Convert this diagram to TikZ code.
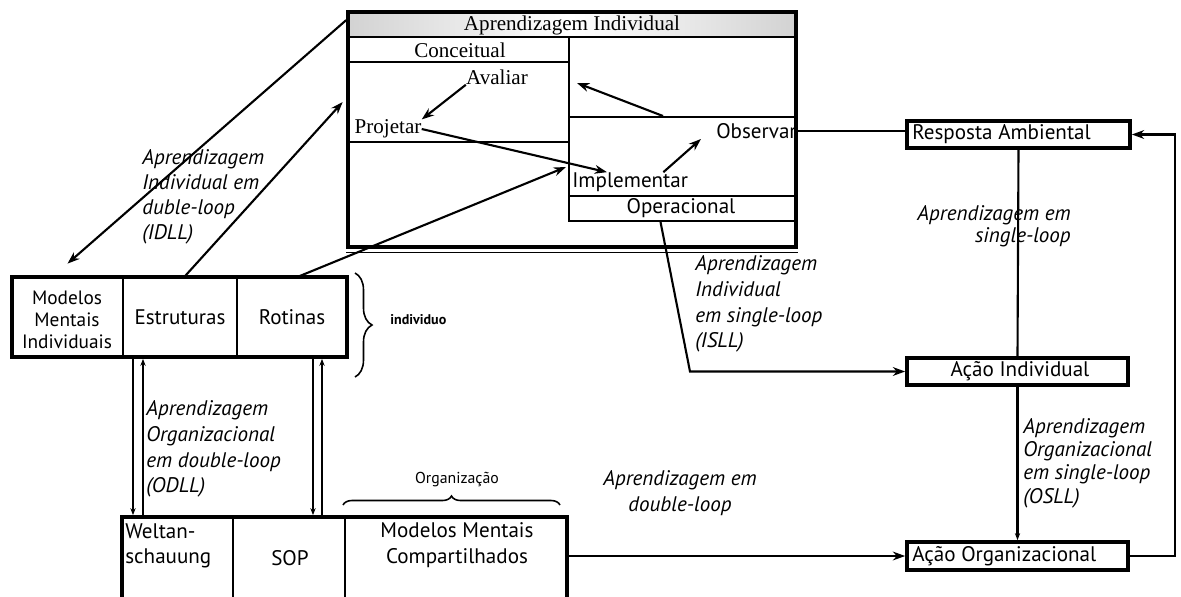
\documentclass[tikz,border=0pt]{standalone}
\usepackage{fontspec}
\setmainfont{Liberation Serif}
\newfontfamily\sansf{PT Sans}
\usetikzlibrary{arrows.meta,fit,decorations.pathreplacing}

\begin{document}
\begin{tikzpicture}[x=0.02cm,y=-0.02cm,
  frame/.style={draw,inner sep=0pt,line width=1pt},
  heavy/.style={frame,line width=2.1pt},
  txt/.style={inner sep=0pt,font=\sansf\fontsize{12}{14}\selectfont},
  serif/.style={inner sep=0pt,font=\fontsize{12}{14}\selectfont},
  lbl/.style={inner sep=0pt,align=left,font=\sansf\itshape\fontsize{12}{14.7}\selectfont},
  arr/.style={-{Stealth[length=7pt,width=5pt]},line width=1.2pt},
  small arr/.style={-{Stealth[length=4pt,width=3pt]},line width=1.2pt},
  conn/.style={line width=1.2pt}]

\clip (0,0) rectangle (1181,596);
\fill[white] (0,0) rectangle (1181,596);

% ---------- individual learning box ----------
\node[frame,fit={(348,12)(796,37)},left color=gray!35,right color=gray!35,middle color=white] (ttlbar) {};
\node[heavy,fit={(348,12)(796,247)}] (topbox) {};
\node[frame,fit={(348,37)(569,62)}] (concl) {};
\node[frame,line width=1.5pt,fit={(348,62)(569,142)}] (concarea) {};
\node[frame,line width=1.5pt,fit={(569,117)(796,196)}] (opbox) {};
\node[frame,fit={(569,196)(796,221)}] (opcell) {};
\draw[line width=0.6pt] ([yshift=-0.08cm]topbox.south west) -- ([yshift=-0.08cm]topbox.south east);

\node[serif] (ttl) at (572,25) {Aprendizagem Individual};
\node[serif] (tconc) at (460,50) {Conceitual};
\node[serif] (aval) at (497,77) {Avaliar};
\node[serif] (proj) at (388,129) {Projetar};
\node[txt,anchor=east] (obs) at (797,131) {Observar};
\node[txt,anchor=west] (impl) at (572,182) {Implementar};
\node[txt] (oper) at (681,208) {Operacional};

\draw[arr] (aval.south west) -- (proj.north east);
\draw[arr] (proj.east) -- ([xshift=0.7cm]impl.north west);
\draw[arr] ([xshift=-0.5cm]impl.north east) -- ([xshift=-0.3cm]obs.south west);
\coordinate (fbs) at (663,116);
\coordinate (fbe) at (577,83);
\draw[arr] (fbs) -- (fbe);

% ---------- individual level ----------
\node[frame,fit={(12,277)(123,357)}] (mod) {};
\node[frame,fit={(123,277)(237,357)}] (est) {};
\node[frame,fit={(237,277)(347,357)}] (rot) {};
\node[heavy,fit={(12,277)(347,357)}] (lbox) {};
\node[txt,align=center,font=\sansf\fontsize{11}{12.5}\selectfont] (modtxt) at (67,320) {Modelos\\Mentais\\Individuais};
\node[txt] (esttxt) at (180,317) {Estruturas};
\node[txt] (rottxt) at (292,317) {Rotinas};

\draw[decorate,decoration={brace,amplitude=0.34cm},line width=0.9pt] (355,273) -- (355,377);
\node[txt,anchor=west,font=\sansf\bfseries\fontsize{8}{9}\selectfont] (indiv) at (390,320) {individuo};

% ---------- organisational level ----------
\node[frame,fit={(122,517)(233,610)}] (wel) {};
\node[frame,fit={(233,517)(345,610)}] (sop) {};
\node[frame,fit={(345,517)(567,610)}] (mmc) {};
\node[heavy,fit={(122,517)(567,610)}] (bbox) {};
\node[txt,anchor=north west,align=left,font=\sansf\fontsize{12}{14.7}\selectfont] (weltxt) at (125,523) {Weltan-\\schauung};
\node[txt] (soptxt) at (290,558) {SOP};
\node[txt,align=center,font=\sansf\fontsize{12}{14.7}\selectfont] (mmctxt) at (457,545) {Modelos Mentais\\Compartilhados};

\draw[decorate,decoration={brace,amplitude=0.18cm},line width=0.9pt] (343,505) -- (560,505);
\node[txt,font=\sansf\fontsize{9}{10}\selectfont] (orgtxt) at (457,480) {Organização};

% links between the two levels
\coordinate (pa) at (133,0);
\coordinate (pb) at (143,0);
\coordinate (pc) at (313,0);
\coordinate (pd) at (322,0);
\draw[small arr] (pa |- lbox.south) -- (pa |- bbox.north);
\draw[small arr] (pb |- bbox.north) -- (pb |- lbox.south);
\draw[small arr] (pc |- lbox.south) -- (pc |- bbox.north);
\draw[small arr] (pd |- bbox.north) -- (pd |- lbox.south);

% ---------- actions and response ----------
\node[heavy,fit={(907,121)(1130,148)}] (resp) {};
\node[heavy,fit={(907,358)(1128,385)}] (ai) {};
\node[heavy,fit={(907,542)(1128,570)}] (aorg) {};
\node[txt,anchor=west] (resptxt) at (912,134) {Resposta Ambiental};
\node[txt] (aitxt) at (1020,371) {Ação Individual};
\node[txt,anchor=west] (aorgtxt) at (912,556) {Ação Organizacional};

% ---------- labels ----------
\node[lbl,anchor=west,font=\sansf\itshape\fontsize{12}{14.2}\selectfont] (idll) at (142,197) {Aprendizagem\\Individual em\\duble-loop\\(IDLL)};
\node[lbl,anchor=west] (odll) at (146,449) {Aprendizagem\\Organizacional\\em double-loop\\(ODLL)};
\node[lbl,anchor=west] (isll) at (695,304) {Aprendizagem\\Individual\\em single-loop\\(ISLL)};
\node[lbl,anchor=west,font=\sansf\itshape\fontsize{12}{13.3}\selectfont] (osll) at (1023,463) {Aprendizagem\\Organizacional\\em single-loop\\(OSLL)};
\node[lbl,anchor=east,align=right,font=\sansf\itshape\fontsize{12}{12.6}\selectfont] (sll) at (1071,226) {Aprendizagem em\\single-loop};
\node[lbl,align=center] (dll) at (680,493) {Aprendizagem em\\double-loop};

% ---------- connectors ----------
\draw[arr] ([yshift=-0.2cm]topbox.north west) -- ([yshift=0.25cm]mod.north);
\draw[arr] ([xshift=0.1cm]est.north) -- ([xshift=-0.08cm]concarea.west);
\draw[arr] ([xshift=0.15cm]rot.north) -- ([shift={(-0.12cm,0.3cm)}]impl.west);

\draw[conn] (obs.east) -- (obs.east -| resp.west);
\draw[conn] (resp.south) -- (ai.north);
\draw[small arr] (ai.south) -- (aorg.north);

\coordinate (islc) at (690,0);
\draw[arr] ([xshift=-0.44cm]opcell.south) -- (islc |- ai.west) -- (ai.west);

\draw[arr] (aorg.west -| bbox.east) -- (aorg.west);

\coordinate (rr) at (1175,0);
\draw[arr] (aorg.east) -- (aorg.east -| rr) -- (resp.east -| rr) -- (resp.east);
\end{tikzpicture}
\end{document}
